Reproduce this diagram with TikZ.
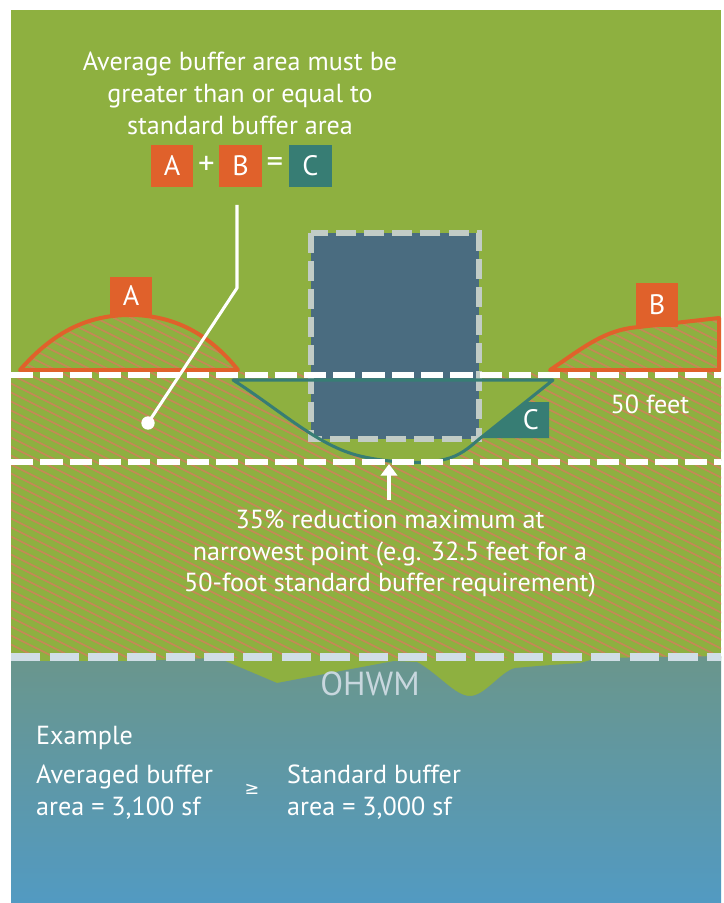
\documentclass[tikz,border=0pt]{standalone}
\usepackage{fontspec}
\setmainfont{PT Sans}
\newfontfamily\symfont{DejaVu Sans}
\usetikzlibrary{arrows.meta}

\definecolor{grass}{RGB}{142,176,64}
\definecolor{hatchc}{RGB}{198,136,86}
\definecolor{ember}{RGB}{224,97,43}
\definecolor{tealc}{RGB}{55,125,116}
\definecolor{bldg}{RGB}{74,108,128}
\definecolor{bldgedge}{RGB}{194,204,198}
\definecolor{ohwmc}{RGB}{208,222,230}
\definecolor{ohwmtext}{RGB}{200,215,222}
\definecolor{watertop}{RGB}{106,150,140}
\definecolor{watermid}{RGB}{84,153,190}
\definecolor{waterbot}{RGB}{82,154,194}

\newcommand\bodyfont{\fontsize{22.3pt}{26pt}\selectfont}
\newcommand\boxfont{\fontsize{24pt}{28pt}\selectfont}
\newcommand\opfont{\fontsize{28pt}{32pt}\selectfont}
\newcommand\ohwmfont{\fontsize{28.5pt}{32pt}\selectfont}

% outline of the reduced buffer pocket (area C)
\newcommand\pocketpath{(233,380) .. controls (280,410) and (318,446) .. (360,456)
  .. controls (390,463) and (432,466) .. (455,456)
  .. controls (468,450) and (475,442) .. (483,436) -- (553,380) -- cycle}
\newcommand\humpApath{(20,370) .. controls (55,330) and (90,315) .. (130,315)
  .. controls (175,315) and (210,335) .. (238,370) -- cycle}
\newcommand\humpBpath{(550,370) .. controls (580,350) and (600,333) .. (630,328)
  -- (719,318) -- (719,370) -- cycle}

\begin{document}
\begin{tikzpicture}[x=0.03cm,y=-0.03cm,
  txt/.style={text=white,font=\bodyfont,inner sep=0pt},
  lettertag/.style={fill=#1,text=white,font=\boxfont,inner sep=0pt,
    minimum width=1.28cm,minimum height=1.26cm},
  hatchline/.style={draw=hatchc,line width=1.5pt},
  humpline/.style={draw=ember,line width=3.4pt,line join=round},
  pocketline/.style={draw=tealc,line width=2.6pt,line join=round},
  bufferdash/.style={draw=white,line width=4.3pt,dash pattern=on 19pt off 6pt},
  bldgdash/.style={draw=bldgedge,line width=4.3pt,dash pattern=on 17pt off 7pt},
  ohwmdash/.style={draw=ohwmc,line width=6pt,dash pattern=on 25pt off 8pt},
  leader/.style={draw=white,line width=2.6pt},
  dotmark/.style={circle,fill=white,inner sep=0pt,minimum size=0.4cm}]

\useasboundingbox (0,0) rectangle (723,903);
\fill[white] (0,0) rectangle (723,903);

% upland
\fill[grass] (11,10) rectangle (721,903);

% hatched buffer area, including the two added humps
\begin{scope}
  \clip (11,372) rectangle (721,658) \humpApath \humpBpath;
  \foreach \k in {-12,...,75}
    \draw[hatchline] (0,9*\k) -- (730,9*\k+365);
\end{scope}

% the pocket taken out of the buffer stays plain
\fill[grass] \pocketpath;

% water body below the ordinary high water mark
\shade[top color=watertop,middle color=watermid,bottom color=waterbot]
  (11,661) -- (139,661) -- (185,659) -- (218,658) -- (277,683) -- (394,661)
  -- (417,662) .. controls (440,675) and (455,696) .. (470,696)
  .. controls (485,696) and (500,672) .. (515,668) -- (538,666) -- (580,663)
  -- (598,658) -- (721,656) -- (721,903) -- (11,903) -- cycle;

% added buffer humps
\draw[humpline] \humpApath;
\draw[humpline] \humpBpath;

% building
\fill[bldg] (311,233) rectangle (479,439);
\draw[bldgdash] (311,233) rectangle (479,439);

% reduced pocket outline and its tag
\draw[pocketline] \pocketpath;
\fill[tealc] (482,438) -- (524,402) -- (549,402) -- (549,438) -- cycle;

% standard buffer limits
\draw[bufferdash] (11,375) -- (721,375);
\draw[bufferdash] (11,462) -- (721,462);
\draw[ohwmdash] (11,657) -- (721,657);

% area tags
\node[lettertag=ember,minimum height=1.14cm] (tagA) at (131,296) {A};
\node[lettertag=ember,minimum height=1.32cm] (tagB) at (657,305) {B};
\node[txt,font=\boxfont] (tagC) at (531,420) {C};

% heading and equation
\node[txt,anchor=base] (head1) at (240,71) {Average buffer area must be};
\node[txt,anchor=base] (head2) at (240,103) {greater than or equal to};
\node[txt,anchor=base] (head3) at (240,135) {standard buffer area};
\node[lettertag=ember] (eqA) at (172,166) {A};
\node[txt,font=\opfont] (eqplus) at (206.5,165) {+};
\node[lettertag=ember] (eqB) at (240.5,166) {B};
\node[txt,font=\opfont] (eqeq) at (275,165) {=};
\node[lettertag=tealc] (eqC) at (310.5,166) {C};

% leader to the buffer strip
\coordinate (ldtop) at (237,205);
\coordinate (ldbend) at (237,288);
\node[dotmark] (ldot) at (148,423) {};
\draw[leader] (ldtop) -- (ldbend) -- (ldot.center);

% narrowest point arrow
\coordinate (arrtail) at (389,500);
\coordinate (arrtip) at (389,464);
\draw[draw=white,line width=3.4pt,-{Triangle[width=14pt,length=10pt]}] (arrtail) -- (arrtip);

\node[txt,anchor=base] (note1) at (390,528) {35\% reduction maximum at};
\node[txt,anchor=base] (note2) at (390,560) {narrowest point (e.g. 32.5 feet for a};
\node[txt,anchor=base] (note3) at (390,591) {50-foot standard buffer requirement)};

\node[txt,anchor=base] (width) at (650,413) {50 feet};

\node[txt,anchor=base,text=ohwmtext,font=\ohwmfont] (ohwm) at (370,695) {OHWM};

% worked example
\node[txt,anchor=base west] (ex) at (36,744) {Example};
\node[txt,anchor=base west] (avg1) at (36,783) {Averaged buffer};
\node[txt,anchor=base west] (avg2) at (36,815) {area = 3,100 sf};
\node[txt,anchor=center,font=\symfont\fontsize{15pt}{18pt}\selectfont] (geq) at (252,789) {≥};
\node[txt,anchor=base west] (std1) at (287,783) {Standard buffer};
\node[txt,anchor=base west] (std2) at (287,815) {area = 3,000 sf};

\end{tikzpicture}
\end{document}
